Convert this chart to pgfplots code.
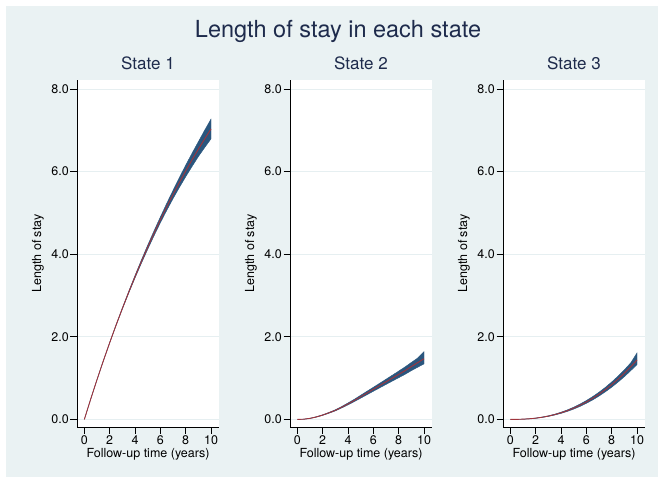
\documentclass[border=0pt]{standalone}
\usepackage{fontspec}
\setmainfont{TeX Gyre Heros}
\usepackage{pgfplots}
\usepackage{pgfplotstable}
\pgfplotsset{compat=1.18}
\definecolor{bg}{RGB}{234,242,243}
\definecolor{gridc}{RGB}{230,239,241}
\definecolor{navy}{RGB}{42,86,126}
\definecolor{maroon}{RGB}{160,52,60}
\definecolor{ttl}{RGB}{30,43,76}

% point estimates
\pgfplotstableread{
t est
0 0
0.5 0.491
1 0.963
1.5 1.419
2 1.857
2.5 2.280
3 2.686
3.5 3.078
4 3.456
4.5 3.819
5 4.169
5.5 4.507
6 4.832
6.5 5.145
7 5.446
7.5 5.736
8 6.016
8.5 6.285
9 6.545
9.5 6.794
10 7.035
}\stA
\pgfplotstableread{
t est
0 0
0.5 0.005
1 0.025
1.5 0.060
2 0.105
2.5 0.160
3 0.220
3.5 0.295
4 0.375
4.5 0.460
5 0.550
5.5 0.640
6 0.730
6.5 0.820
7 0.910
7.5 1.000
8 1.090
8.5 1.180
9 1.280
9.5 1.375
10 1.470
}\stB
\pgfplotstableread{
t est
0 0
0.5 0.001
1 0.006
1.5 0.015
2 0.030
2.5 0.052
3 0.080
3.5 0.116
4 0.160
4.5 0.212
5 0.273
5.5 0.343
6 0.423
6.5 0.512
7 0.612
7.5 0.722
8 0.843
8.5 0.975
9 1.118
9.5 1.273
10 1.440
}\stC

% confidence bands: upper limit forward, lower limit backward
\pgfplotstableread{
t y
0 0
0.5 0.494
1 0.967
1.5 1.424
2 1.863
2.5 2.289
3 2.699
3.5 3.098
4 3.486
4.5 3.859
5 4.219
5.5 4.567
6 4.902
6.5 5.230
7 5.546
7.5 5.856
8 6.156
8.5 6.445
9 6.725
9.5 7.004
10 7.275
10 6.795
9.5 6.584
9 6.365
8.5 6.125
8 5.876
7.5 5.616
7 5.346
6.5 5.060
6 4.762
5.5 4.447
5 4.119
4.5 3.779
4 3.426
3.5 3.058
3 2.673
2.5 2.271
2 1.851
1.5 1.414
1 0.959
0.5 0.488
0 0
}\bandA
\pgfplotstableread{
t y
0 0
0.5 0.006
1 0.028
1.5 0.065
2 0.112
2.5 0.170
3 0.233
3.5 0.312
4 0.398
4.5 0.488
5 0.585
5.5 0.682
6 0.778
6.5 0.875
7 0.973
7.5 1.071
8 1.170
8.5 1.271
9 1.379
9.5 1.486
10 1.640
10 1.345
9.5 1.264
9 1.181
8.5 1.091
8 1.010
7.5 0.929
7 0.847
6.5 0.765
6 0.682
5.5 0.598
5 0.515
4.5 0.432
4 0.352
3.5 0.278
3 0.207
2.5 0.150
2 0.098
1.5 0.055
1 0.022
0.5 0.004
0 0
}\bandB
\pgfplotstableread{
t y
0 0
0.5 0.001
1 0.007
1.5 0.017
2 0.033
2.5 0.057
3 0.087
3.5 0.126
4 0.174
4.5 0.230
5 0.296
5.5 0.371
6 0.457
6.5 0.552
7 0.659
7.5 0.776
8 0.906
8.5 1.047
9 1.201
9.5 1.368
10 1.610
10 1.330
9.5 1.178
9 1.035
8.5 0.903
8 0.780
7.5 0.668
7 0.565
6.5 0.472
6 0.389
5.5 0.315
5 0.250
4.5 0.194
4 0.146
3.5 0.106
3 0.073
2.5 0.047
2 0.027
1.5 0.013
1 0.005
0.5 0.001
0 0
}\bandC

\pgfplotsset{
  panel/.style={
    scale only axis,
    width=142pt, height=347pt,
    xmin=-0.58, xmax=10.63,
    ymin=-0.184, ymax=8.22,
    axis x line*=bottom, axis y line*=left,
    axis line style={-, black, line width=0.9pt},
    axis background/.style={fill=white},
    xtick={0,2,4,6,8,10},
    xticklabels={0,2,4,6,8,10},
    ytick={0,2,4,6,8},
    yticklabels={0.0,2.0,4.0,6.0,8.0},
    tick align=outside,
    major tick length=6.5pt,
    tick style={black, line width=0.8pt},
    ymajorgrids,
    major grid style={gridc, line width=1pt},
    tick label style={font=\fontsize{12.5}{14}\selectfont, text=black},
    yticklabel style={inner sep=1.5pt},
    xticklabel style={inner sep=2pt},
    title style={font=\fontsize{17}{20}\selectfont, text=ttl, at={(0.5,1)}, anchor=base, yshift=4pt, inner sep=0pt},
    ylabel={Length of stay},
    ylabel style={font=\fontsize{12.5}{14}\selectfont, at={(axis description cs:0,0.5)}, anchor=south, inner sep=0pt, yshift=33pt},
    xlabel={Follow-up time (years)},
    xlabel style={font=\fontsize{12.5}{14}\selectfont, at={(axis description cs:0.5,0)}, anchor=base, inner sep=0pt, yshift=-30pt},
  }
}

\begin{document}
\begin{tikzpicture}
\fill[white] (0pt,0pt) rectangle (664pt,483pt);
\fill[bg] (6pt,6pt) rectangle (658pt,477pt);
\node[anchor=base, text=ttl, font=\fontsize{23.5}{28}\selectfont, inner sep=0pt] at (338pt,445pt) {Length of stay in each state};

\begin{axis}[panel, at={(77pt,56pt)}, anchor=south west, title={State 1}]
\addplot[fill=navy, draw=navy, line width=0.4pt] table[x=t,y=y]{\bandA};
\addplot[maroon, line width=0.9pt] table[x=t,y=est]{\stA};
\end{axis}

\begin{axis}[panel, at={(290pt,56pt)}, anchor=south west, title={State 2}]
\addplot[fill=navy, draw=navy, line width=0.4pt] table[x=t,y=y]{\bandB};
\addplot[maroon, line width=0.9pt] table[x=t,y=est]{\stB};
\end{axis}

\begin{axis}[panel, at={(503pt,56pt)}, anchor=south west, title={State 3}]
\addplot[fill=navy, draw=navy, line width=0.4pt] table[x=t,y=y]{\bandC};
\addplot[maroon, line width=0.9pt] table[x=t,y=est]{\stC};
\end{axis}
\end{tikzpicture}
\end{document}
